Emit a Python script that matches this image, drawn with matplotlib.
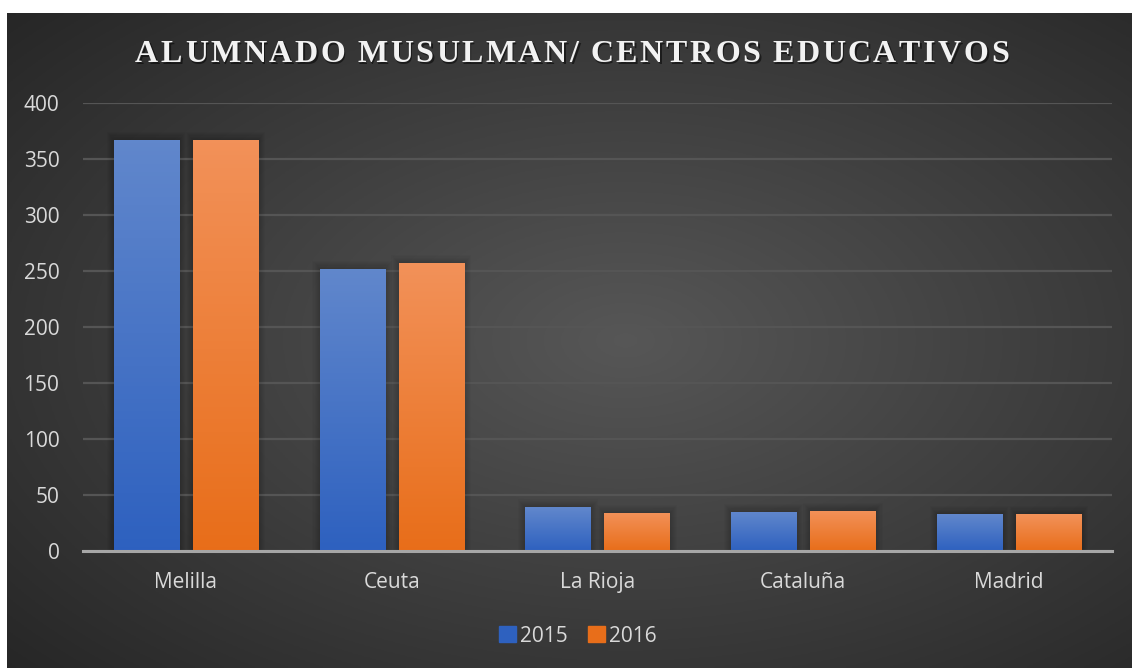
import numpy as np
import matplotlib.pyplot as plt
from matplotlib.patches import Rectangle

# data
regions = ['Melilla', 'Ceuta', 'La Rioja', 'Cataluña', 'Madrid']
years = ['2015', '2016']
values_2015 = [367, 252, 39, 35, 33]
values_2016 = [367, 257, 34, 36, 33]
y_ticks = [0, 50, 100, 150, 200, 250, 300, 350, 400]
title = 'ALUMNADO MUSULMAN/ CENTROS EDUCATIVOS'

W, H = 1132, 668
fig = plt.figure(figsize=(W / 100, H / 100), dpi=100)
fig.patch.set_facecolor('white')

# dark panel with radial gradient
bg = fig.add_axes([7 / W, 0, 1 - 7 / W, (H - 13) / H])
bg.set_axis_off()
gx, gy = np.meshgrid(np.linspace(0, 1, 400), np.linspace(0, 1, 240))
r = np.sqrt(((gx - 0.55) / 0.75) ** 2 + ((gy - 0.5) / 0.75) ** 2)
r = np.clip(r, 0, 1)
shade = 0.34 - 0.19 * r
bg.imshow(np.dstack([shade, shade, shade]), extent=[0, 1, 0, 1], aspect='auto', origin='lower')
bg.set_xlim(0, 1)
bg.set_ylim(0, 1)

ax = fig.add_axes([83 / W, (H - 551) / H, (1112 - 83) / W, (551 - 103) / H])
ax.patch.set_alpha(0)

x = np.arange(len(regions))
width = 0.316
offset = 0.192


def grad_bars(xs, vals, top, bottom, label):
    bars = ax.bar(xs, vals, width, color=bottom, label=label, zorder=3)
    g = np.linspace(0, 1, 100)[:, None]
    top = np.array(top)
    bottom = np.array(bottom)
    img = bottom[None, None, :] * (1 - g[..., None]) + top[None, None, :] * g[..., None]
    for b in bars:
        x0, w, h = b.get_x(), b.get_width(), b.get_height()
        # soft shadow
        for k in range(1, 8):
            ax.add_patch(Rectangle((x0 - 0.005 * k, 0), w + 0.010 * k, h + 1.0 * k,
                                   color='black', alpha=0.025, lw=0, zorder=2))
        im = ax.imshow(img, extent=[x0, x0 + w, 0, h], origin='lower', aspect='auto', zorder=4)
        im.set_clip_path(b)
    return bars


blue_top = (0.38, 0.53, 0.80)
blue_bottom = (0.18, 0.38, 0.75)
orange_top = (0.95, 0.57, 0.35)
orange_bottom = (0.91, 0.43, 0.10)

grad_bars(x - offset, values_2015, blue_top, blue_bottom, years[0])
grad_bars(x + offset, values_2016, orange_top, orange_bottom, years[1])

ax.set_xlim(-0.5, len(regions) - 0.5)
ax.set_ylim(0, 400)
ax.set_yticks(y_ticks)
ax.set_xticks(x)
ax.set_xticklabels(regions)
ax.grid(axis='y', color='#555555', lw=1.6, zorder=1)
ax.set_axisbelow(True)
for s in ['top', 'right', 'left']:
    ax.spines[s].set_visible(False)
ax.spines['bottom'].set_color('#a6a6a6')
ax.spines['bottom'].set_linewidth(2.2)
ax.spines['bottom'].set_zorder(5)
ax.tick_params(axis='both', length=0, colors='#d9d9d9', labelsize=15)
ax.tick_params(axis='x', pad=15)
ax.tick_params(axis='y', pad=17)
for lab in ax.get_xticklabels() + ax.get_yticklabels():
    lab.set_fontfamily('Open Sans')

leg = ax.legend(loc='center', bbox_to_anchor=(578 / W, 1 - 636 / H), bbox_transform=fig.transFigure,
                ncol=2, frameon=False, handlelength=0.8, handleheight=0.8, handletextpad=0.2,
                columnspacing=1.0, prop={'family': 'Open Sans', 'size': 15})
leg.legend_handles[0].set_color(blue_bottom)
leg.legend_handles[1].set_color(orange_bottom)
for t in leg.get_texts():
    t.set_color('#d9d9d9')

# title with letter spacing, placed char by char
fig.canvas.draw()
renderer = fig.canvas.get_renderer()
tkw = dict(fontsize=23, fontweight='bold', family='Liberation Serif', color='#f2f2f2', va='center')
spacing = 2.6
widths = []
for ch in title:
    t = fig.text(0, 0, ch if ch != ' ' else 'a', **tkw)
    widths.append(t.get_window_extent(renderer).width if ch != ' ' else 6.5)
    t.remove()
total = sum(widths) + spacing * (len(title) - 1)
xpos = 572 - total / 2
for ch, w in zip(title, widths):
    if ch != ' ':
        fig.text((xpos + 1.5) / W, 1 - 57 / H, ch, alpha=0.5, **{**tkw, 'color': 'black'})
        fig.text(xpos / W, 1 - 55 / H, ch, **tkw)
    xpos += w + spacing

fig.savefig('out.png', dpi=100)
